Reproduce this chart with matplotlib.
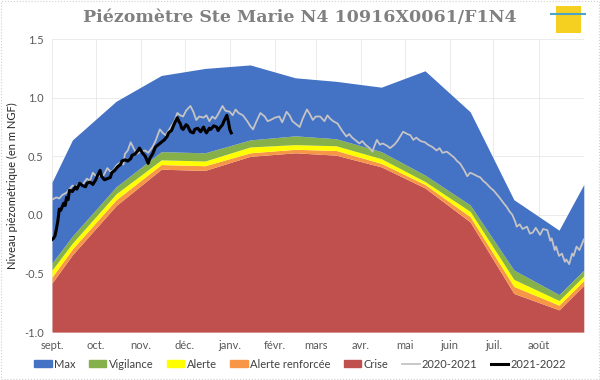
import matplotlib
matplotlib.use('Agg')
import matplotlib.pyplot as plt
from matplotlib.patches import Patch, Rectangle
from matplotlib.lines import Line2D

#Month labels, ticks placed at the first day of each month (days since 1 Sept)
months = ['sept.', 'oct.', 'nov.', 'déc.', 'janv.', 'févr.', 'mars', 'avr.', 'mai', 'juin', 'juil.', 'août']
month_start = [0, 30, 61, 91, 122, 153, 181, 212, 242, 273, 303, 334]

#Threshold envelopes (levels in m NGF), given at mid-month plus the two ends
env_days = [0, 14, 44, 75, 105, 136, 167, 195, 226, 256, 287, 317, 348, 365]
max_lvl = [0.28, 0.64, 0.97, 1.19, 1.25, 1.28, 1.17, 1.14, 1.09, 1.23, 0.88, 0.13, -0.13, 0.26]
vigilance = [-0.41, -0.18, 0.24, 0.54, 0.53, 0.64, 0.675, 0.65, 0.54, 0.34, 0.085, -0.47, -0.68, -0.47]
alerte = [-0.47, -0.24, 0.18, 0.47, 0.46, 0.58, 0.60, 0.59, 0.48, 0.285, 0.03, -0.55, -0.73, -0.52]
alerte_renf = [-0.53, -0.29, 0.13, 0.43, 0.42, 0.53, 0.56, 0.55, 0.44, 0.26, -0.015, -0.61, -0.77, -0.56]
crise = [-0.58, -0.34, 0.08, 0.39, 0.38, 0.50, 0.53, 0.51, 0.41, 0.23, -0.06, -0.67, -0.81, -0.60]

#2020-2021 measured levels
days_2020 = [0, 3, 5, 7, 10, 12, 14, 16, 19, 21, 24, 26, 28, 31, 33, 35, 38, 40, 42, 44, 47, 49,
             50, 52, 54, 56, 58, 61, 64, 66, 69, 71, 74, 76, 78, 80, 82, 84, 86, 88, 90, 92, 95,
             97, 99, 101, 104, 106, 108, 110, 112, 114, 117, 119, 122, 124, 126, 128, 131, 134,
             136, 138, 140, 143, 146, 148, 150, 153, 156, 158, 161, 163, 165, 168, 170, 172, 175,
             177, 179, 181, 184, 187, 189, 191, 193, 196, 199, 202, 204, 206, 209, 211, 213, 215,
             218, 220, 221, 223, 225, 227, 230, 232, 235, 237, 239, 241, 244, 246, 248, 250, 253,
             256, 258, 261, 264, 266, 268, 271, 273, 276, 278, 280, 283, 285, 287, 289, 292, 294,
             296, 298, 301, 303, 305, 307, 310, 312, 314, 316, 318, 319, 321, 323, 326, 328, 330,
             332, 335, 337, 340, 342, 343, 345, 346, 348, 350, 352, 353, 355, 357, 358, 360, 362,
             364, 365]
lvl_2020 = [0.13, 0.15, 0.14, 0.17, 0.19, 0.22, 0.25, 0.24, 0.27, 0.26, 0.31, 0.29, 0.36, 0.32,
            0.34, 0.33, 0.40, 0.37, 0.38, 0.42, 0.45, 0.43, 0.52, 0.55, 0.62, 0.57, 0.52, 0.54,
            0.55, 0.53, 0.58, 0.63, 0.73, 0.70, 0.68, 0.72, 0.76, 0.80, 0.87, 0.85, 0.84, 0.89,
            0.93, 0.88, 0.81, 0.84, 0.83, 0.85, 0.80, 0.84, 0.82, 0.86, 0.93, 0.89, 0.88, 0.85,
            0.90, 0.87, 0.85, 0.80, 0.76, 0.73, 0.79, 0.87, 0.84, 0.80, 0.81, 0.83, 0.84, 0.79,
            0.88, 0.85, 0.80, 0.77, 0.75, 0.82, 0.90, 0.86, 0.81, 0.84, 0.84, 0.80, 0.85, 0.82,
            0.80, 0.78, 0.72, 0.67, 0.69, 0.66, 0.63, 0.61, 0.63, 0.60, 0.57, 0.54, 0.58, 0.64,
            0.60, 0.61, 0.59, 0.57, 0.60, 0.63, 0.67, 0.71, 0.69, 0.68, 0.64, 0.66, 0.63, 0.62,
            0.60, 0.58, 0.55, 0.57, 0.53, 0.54, 0.52, 0.49, 0.46, 0.44, 0.38, 0.33, 0.36, 0.35,
            0.33, 0.32, 0.29, 0.27, 0.23, 0.21, 0.18, 0.15, 0.10, 0.07, 0.03, 0.00, -0.06, -0.10,
            -0.08, -0.12, -0.10, -0.16, -0.15, -0.11, -0.17, -0.12, -0.13, -0.22, -0.20, -0.30,
            -0.27, -0.35, -0.33, -0.40, -0.38, -0.42, -0.33, -0.35, -0.27, -0.30, -0.24, -0.21]

#2021-2022 measured levels
days_2021 = [0, 1, 2, 3, 4, 5, 6, 8, 9, 10, 11, 12, 14, 16, 17, 19, 21, 23, 24, 26, 28, 30, 31,
             33, 34, 36, 38, 40, 41, 43, 45, 47, 48, 50, 52, 54, 55, 57, 59, 60, 62, 64, 66, 67,
             69, 71, 73, 75, 77, 79, 80, 82, 84, 86, 87, 88, 89, 90, 92, 93, 95, 97, 98, 100, 102,
             104, 105, 106, 108, 109, 111, 113, 114, 115, 117, 118, 120, 121, 122, 123]
lvl_2021 = [-0.21, -0.20, -0.18, -0.12, -0.05, 0.05, 0.04, 0.10, 0.08, 0.15, 0.13, 0.21, 0.20,
            0.24, 0.22, 0.27, 0.25, 0.24, 0.27, 0.28, 0.26, 0.30, 0.33, 0.38, 0.33, 0.30, 0.31,
            0.32, 0.36, 0.38, 0.41, 0.43, 0.46, 0.47, 0.46, 0.48, 0.51, 0.52, 0.55, 0.57, 0.53,
            0.50, 0.44, 0.48, 0.52, 0.58, 0.60, 0.62, 0.64, 0.67, 0.70, 0.72, 0.78, 0.83, 0.80,
            0.78, 0.74, 0.73, 0.77, 0.76, 0.71, 0.70, 0.73, 0.74, 0.71, 0.75, 0.72, 0.70, 0.74,
            0.73, 0.76, 0.75, 0.72, 0.74, 0.77, 0.80, 0.85, 0.80, 0.73, 0.70]

c_max = '#4472C4'
c_vig = '#86B04A'
c_ale = '#FFFF00'
c_ren = '#F79646'
c_cri = '#C0504D'

fig, ax = plt.subplots(figsize=(6, 3.8), dpi=100)
fig.subplots_adjust(left=0.0867, right=0.973, bottom=0.126, top=0.897)

ymin = -1.0
ax.fill_between(env_days, ymin, crise, color=c_cri, lw=0)
ax.fill_between(env_days, crise, alerte_renf, color=c_ren, lw=0)
ax.fill_between(env_days, alerte_renf, alerte, color=c_ale, lw=0)
ax.fill_between(env_days, alerte, vigilance, color=c_vig, lw=0)
ax.fill_between(env_days, vigilance, max_lvl, color=c_max, lw=0)

ax.plot(days_2020, lvl_2020, color='#C4C4C4', lw=1.3)
ax.plot(days_2021, lvl_2021, color='black', lw=2.2)

ax.set_xlim(0, 365)
ax.set_ylim(-1.0, 1.5)
ax.set_xticks(month_start)
ax.set_xticklabels(months)
ax.set_yticks([-1.0, -0.5, 0.0, 0.5, 1.0, 1.5])
ax.set_yticklabels(['%.1f' % v for v in [-1.0, -0.5, 0.0, 0.5, 1.0, 1.5]])
ax.tick_params(length=0, labelsize=8, colors='#595959', pad=6)
for lab in ax.get_xticklabels() + ax.get_yticklabels():
    lab.set_family('Lato')
for s in ax.spines.values():
    s.set_visible(False)
ax.grid(True, color='#E8E8E8', lw=0.6)
ax.set_axisbelow(True)

ax.set_ylabel('Niveau piézométrique (en m NGF)', fontsize=8, family='Lato', color='#262626', labelpad=4)

fig.text(0.5, 0.955, 'Piézomètre Ste Marie N4 10916X0061/F1N4', ha='center', va='center',
         fontsize=12.5, fontweight='bold', family='DejaVu Serif', color='#808080')

#Small logo stand-in, top right
fig.patches.append(Rectangle((0.927, 0.913), 0.042, 0.072, transform=fig.transFigure,
                             facecolor='#F5D020', edgecolor='none'))
fig.lines.append(Line2D([0.918, 0.975], [0.962, 0.962], transform=fig.transFigure,
                        color='#4BA3C8', lw=1.5))

#Chart border
fig.patches.append(Rectangle((0.002, 0.002), 0.996, 0.996, transform=fig.transFigure,
                             facecolor='none', edgecolor='#D0D0D0', lw=0.8, ls=':'))

handles = [Patch(color=c_max, label='Max'), Patch(color=c_vig, label='Vigilance'),
           Patch(color=c_ale, label='Alerte'), Patch(color=c_ren, label='Alerte renforcée'),
           Patch(color=c_cri, label='Crise'),
           Line2D([], [], color='#C4C4C4', lw=1.3, label='2020-2021'),
           Line2D([], [], color='black', lw=2.2, label='2021-2022')]
fig.legend(handles=handles, loc='center', bbox_to_anchor=(0.5, 0.042), ncol=7, frameon=False,
           prop={'family': 'Lato', 'size': 8}, handlelength=1.6, handleheight=0.6,
           handletextpad=0.2, columnspacing=1.2, labelcolor='#404040')

plt.savefig('out.png', dpi=100)
